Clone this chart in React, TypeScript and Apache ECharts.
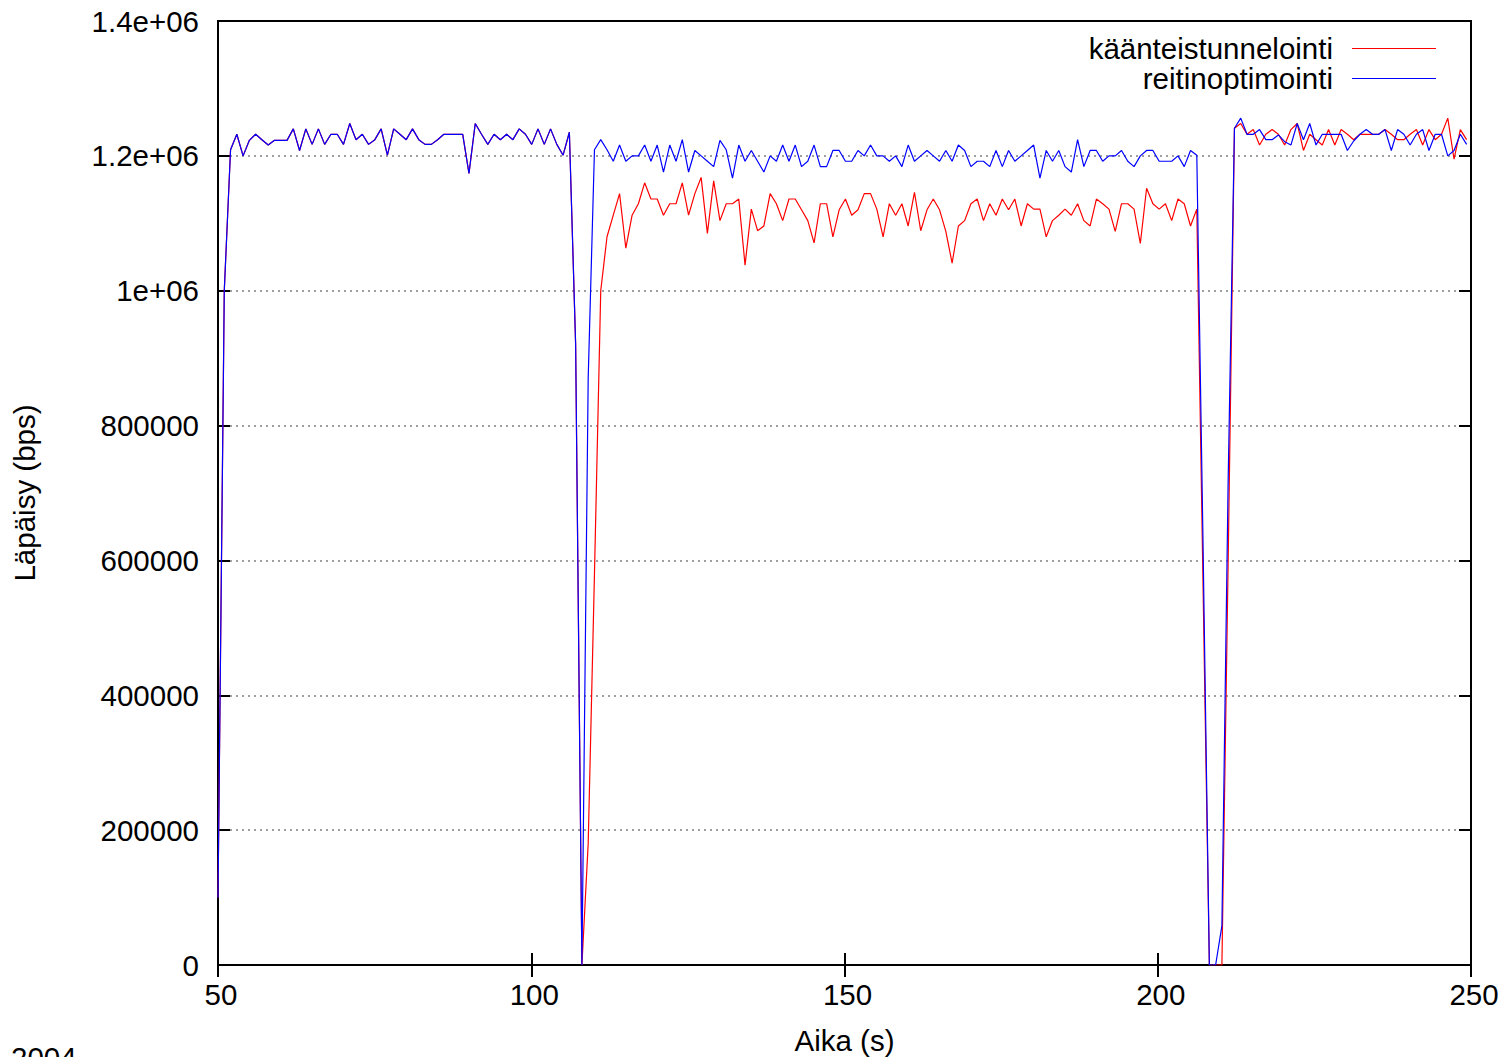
import React, { useEffect, useRef } from 'react';
import * as echarts from 'echarts';

const FONT = "'Liberation Sans', Arial, Helvetica, sans-serif";

const seriesNames = ['käänteistunnelointi', 'reitinoptimointi'];
const xTitle = 'Aika (s)';
const yTitle = 'Läpäisy (bps)';
const footnote = '2004';

const yTickLabels = ['0', '200000', '400000', '600000', '800000', '1e+06', '1.2e+06', '1.4e+06'];

const startTime = 50;
// measured sampling period (samples drift slightly from whole seconds)
const samplePeriod = 1.0015;

// t = 50 .. 107 : both series coincide
const sharedStart = [
  100000, 1000000, 1209000, 1232000, 1200000, 1223000, 1232000, 1224000, 1216000, 1223000,
  1223000, 1223000, 1240000, 1208000, 1240000, 1217000, 1240000, 1217000, 1232000, 1232000,
  1217000, 1248000, 1224000, 1232000, 1217000, 1224000, 1240000, 1201000, 1240000, 1232000,
  1224000, 1240000, 1224000, 1217000, 1217000, 1224000, 1232000, 1232000, 1232000, 1232000,
  1174000, 1248000, 1232000, 1217000, 1232000, 1224000, 1232000, 1224000, 1240000, 1232000,
  1217000, 1240000, 1217000, 1240000, 1217000, 1201000, 1235000, 920000,
];

// t = 108 .. 249 : käänteistunnelointi
const redRest = [
  0, 180000, 580000, 1000000, 1080000, 1112000, 1144000, 1063000, 1112000, 1129000,
  1160000, 1136000, 1136000, 1112000, 1129000, 1129000, 1160000, 1112000, 1144000, 1168000,
  1085000, 1163000, 1104000, 1129000, 1129000, 1136000, 1038000, 1121000, 1089000, 1096000,
  1144000, 1129000, 1104000, 1136000, 1136000, 1120000, 1104000, 1071000, 1129000, 1129000,
  1080000, 1120000, 1136000, 1112000, 1120000, 1144000, 1144000, 1121000, 1080000, 1129000,
  1112000, 1129000, 1096000, 1146000, 1089000, 1120000, 1136000, 1120000, 1088000, 1041000,
  1096000, 1104000, 1129000, 1136000, 1104000, 1129000, 1112000, 1136000, 1120000, 1136000,
  1096000, 1129000, 1121000, 1121000, 1080000, 1104000, 1112000, 1121000, 1112000, 1129000,
  1104000, 1096000, 1136000, 1129000, 1121000, 1088000, 1129000, 1129000, 1121000, 1070000,
  1152000, 1129000, 1121000, 1129000, 1104000, 1136000, 1129000, 1096000, 1121000, 560000,
  0, 0, 0, 600000, 1241000, 1248000, 1232000, 1239000, 1216000, 1232000,
  1239000, 1232000, 1216000, 1239000, 1248000, 1208000, 1232000, 1224000, 1216000, 1239000,
  1216000, 1239000, 1232000, 1224000, 1232000, 1232000, 1232000, 1232000, 1239000, 1232000,
  1224000, 1224000, 1232000, 1239000, 1216000, 1239000, 1224000, 1232000, 1256000, 1195000,
  1239000, 1224000,
];

// t = 108 .. 249 : reitinoptimointi
const blueRest = [
  0, 870000, 1209000, 1224000, 1209000, 1192000, 1216000, 1192000, 1200000, 1200000,
  1216000, 1192000, 1216000, 1176000, 1216000, 1192000, 1224000, 1176000, 1208000, 1200000,
  1192000, 1184000, 1223000, 1209000, 1167000, 1216000, 1192000, 1208000, 1192000, 1176000,
  1200000, 1192000, 1216000, 1192000, 1216000, 1184000, 1192000, 1216000, 1184000, 1184000,
  1208000, 1208000, 1192000, 1192000, 1208000, 1200000, 1216000, 1200000, 1200000, 1192000,
  1200000, 1184000, 1216000, 1192000, 1200000, 1208000, 1200000, 1192000, 1208000, 1192000,
  1216000, 1208000, 1184000, 1192000, 1192000, 1184000, 1208000, 1184000, 1208000, 1192000,
  1200000, 1208000, 1216000, 1167000, 1208000, 1192000, 1208000, 1184000, 1176000, 1224000,
  1184000, 1208000, 1208000, 1192000, 1200000, 1200000, 1208000, 1192000, 1184000, 1200000,
  1208000, 1208000, 1192000, 1192000, 1192000, 1200000, 1184000, 1208000, 1201000, 620000,
  0, 0, 58000, 720000, 1241000, 1256000, 1232000, 1232000, 1239000, 1224000,
  1224000, 1231000, 1221000, 1216000, 1248000, 1224000, 1248000, 1216000, 1232000, 1232000,
  1232000, 1232000, 1208000, 1222000, 1232000, 1239000, 1232000, 1232000, 1239000, 1208000,
  1239000, 1232000, 1216000, 1232000, 1239000, 1208000, 1232000, 1232000, 1200000, 1208000,
  1232000, 1217000,
];

const redValues = [...sharedStart, ...redRest];
const blueValues = [...sharedStart, ...blueRest];
const times = redValues.map((_, i) => startTime + i * samplePeriod);

export default function App() {
  const ref = useRef<HTMLDivElement>(null);

  useEffect(() => {
    if (!ref.current) return;
    const chart = echarts.init(ref.current, null, { renderer: 'svg' });
    const tickCommon = { inside: true, length: 12, lineStyle: { color: '#000', width: 2 } };
    const labelStyle = { color: '#000', fontSize: 29.5, fontFamily: FONT };
    const yFormatter = (v: number) => yTickLabels[Math.round(v / 200000)] ?? String(v);

    chart.setOption({
      animation: false,
      backgroundColor: '#ffffff',
      textStyle: { fontFamily: FONT },
      grid: {
        left: 218, top: 21, right: 38, bottom: 92,
        containLabel: false, outerBoundsMode: 'none',
        show: true, borderColor: '#000', borderWidth: 2, backgroundColor: 'transparent',
      },
      xAxis: [
        {
          type: 'value', min: 50, max: 250, interval: 50, position: 'bottom',
          axisLine: { show: false },
          axisTick: tickCommon,
          axisLabel: { ...labelStyle, margin: 14, padding: [0, 0, 0, 6] },
          splitLine: { show: false },
          name: xTitle, nameLocation: 'middle', nameGap: 60,
          nameTextStyle: { ...labelStyle },
        },
        {
          type: 'value', min: 50, max: 250, interval: 50, position: 'top',
          axisLine: { show: false },
          axisTick: tickCommon,
          axisLabel: { show: false },
          splitLine: { show: false },
        },
      ],
      yAxis: [
        {
          type: 'value', min: 0, max: 1400000, interval: 200000, position: 'left',
          axisLine: { show: false },
          axisTick: tickCommon,
          axisLabel: { ...labelStyle, margin: 19, formatter: yFormatter },
          splitLine: {
            show: true, showMinLine: false, showMaxLine: false,
            lineStyle: { color: '#808080', width: 1.5, type: [2, 4] },
          },
          name: yTitle, nameLocation: 'middle', nameGap: 179, nameRotate: 90,
          nameTextStyle: { ...labelStyle },
        },
        {
          type: 'value', min: 0, max: 1400000, interval: 200000, position: 'right',
          axisLine: { show: false },
          axisTick: tickCommon,
          axisLabel: { show: false },
          splitLine: { show: false },
        },
      ],
      series: [
        {
          name: seriesNames[0], type: 'line', xAxisIndex: 0, yAxisIndex: 0,
          showSymbol: false, symbol: 'none', color: '#ff0000',
          lineStyle: { color: '#ff0000', width: 1.2 },
          data: times.map((t, i) => [t, redValues[i]]),
          z: 3,
        },
        {
          name: seriesNames[1], type: 'line', xAxisIndex: 0, yAxisIndex: 0,
          showSymbol: false, symbol: 'none', color: '#0000ff',
          lineStyle: { color: '#0000ff', width: 1.2 },
          data: times.map((t, i) => [t, blueValues[i]]),
          z: 4,
        },
      ],
      graphic: [
        {
          type: 'text', x: 1333, y: 48,
          style: { text: seriesNames[0], textAlign: 'right', textVerticalAlign: 'middle', fill: '#000', fontSize: 29.5, fontFamily: FONT },
        },
        { type: 'line', shape: { x1: 1352, y1: 48.5, x2: 1436, y2: 48.5 }, style: { stroke: '#ff0000', lineWidth: 1.2 } },
        {
          type: 'text', x: 1333, y: 78,
          style: { text: seriesNames[1], textAlign: 'right', textVerticalAlign: 'middle', fill: '#000', fontSize: 29.5, fontFamily: FONT },
        },
        { type: 'line', shape: { x1: 1352, y1: 78.5, x2: 1436, y2: 78.5 }, style: { stroke: '#0000ff', lineWidth: 1.2 } },
        {
          type: 'text', x: 11, y: 1057,
          style: { text: footnote, textAlign: 'left', textVerticalAlign: 'middle', fill: '#000', fontSize: 29.5, fontFamily: FONT },
        },
      ],
    });
    return () => chart.dispose();
  }, []);

  return (
    <div
      ref={ref}
      style={{ position: 'fixed', left: 0, top: 0, width: 1509, height: 1057, background: '#fff' }}
    />
  );
}
